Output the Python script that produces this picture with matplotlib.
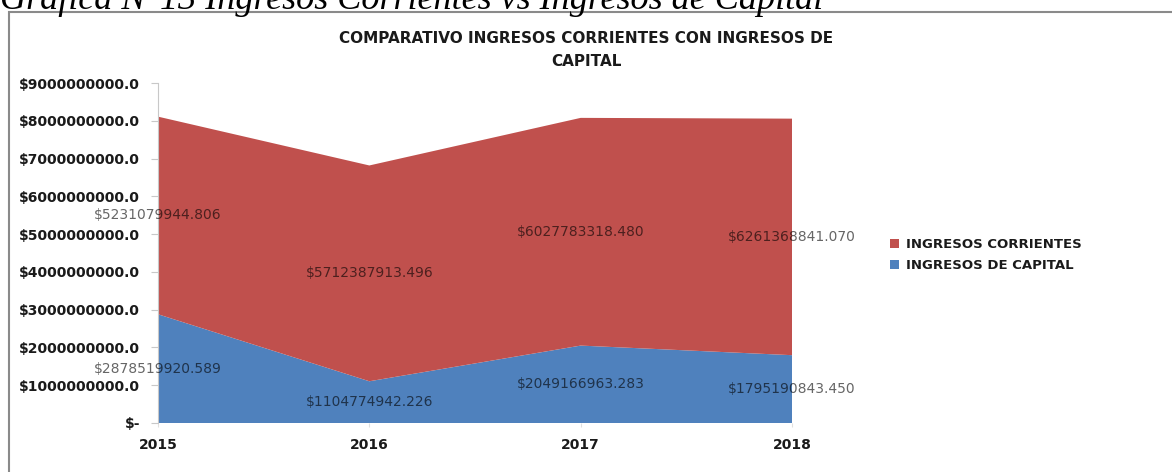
import matplotlib.pyplot as plt
from matplotlib.patches import Rectangle
from matplotlib.ticker import FuncFormatter
import numpy as np

years = ['2015', '2016', '2017', '2018']
ingresos_capital = [2878519920.589, 1104774942.226, 2049166963.283, 1795190843.450]
ingresos_corrientes = [5231079944.806, 5712387913.496, 6027783318.480, 6261368841.070]
series_names = ['INGRESOS DE CAPITAL', 'INGRESOS CORRIENTES']

RED = '#C0504D'
BLUE = '#4F81BD'


def money(v, pos=None):
    if v == 0:
        return '$-'
    return '$%d.0' % v


def main():
    fig = plt.figure(figsize=(11.72, 4.72), dpi=100)

    # caption above the chart box (cut off at the top in the original)
    fig.text(0.0, 1 - 9 / 472, 'Gráfica N°13 Ingresos Corrientes vs Ingresos de Capital',
             family='Liberation Serif', style='italic', fontsize=26, va='baseline', ha='left')

    # chart box border
    fig.patches.append(Rectangle((8.5 / 1172, -0.1), 1.2, 1 - 12 / 472 + 0.1,
                                 transform=fig.transFigure, fill=False,
                                 edgecolor='#8a8a8a', linewidth=1.5))

    ax = fig.add_axes([158 / 1172, 1 - 423 / 472, 634 / 1172, 340 / 472])
    x = np.arange(len(years))
    ax.stackplot(x, ingresos_capital, ingresos_corrientes,
                 colors=[BLUE, RED], labels=series_names)

    ax.set_xlim(0, len(years) - 1)
    ax.set_ylim(0, 9e9)
    ax.set_yticks(np.arange(0, 9.5e9, 1e9))
    ax.yaxis.set_major_formatter(FuncFormatter(money))
    ax.set_xticks(x)
    ax.set_xticklabels(years)

    for side in ['top', 'right', 'bottom']:
        ax.spines[side].set_visible(False)
    ax.spines['left'].set_color('#c8c8c8')
    ax.tick_params(axis='y', colors='#c8c8c8', labelcolor='#1a1a1a', length=5, pad=8)
    ax.tick_params(axis='x', colors='#e0e0e0', labelcolor='#1a1a1a', length=3, pad=8)
    for lab in ax.get_yticklabels() + ax.get_xticklabels():
        lab.set_fontweight('bold')
        lab.set_fontsize(10)

    # data labels in the middle of each band
    for i in x:
        cap = ingresos_capital[i]
        cor = ingresos_corrientes[i]
        ax.text(i, cap / 2, '$%.3f' % cap, ha='center', va='center',
                fontsize=10, color='black', alpha=0.6, clip_on=False)
        ax.text(i, cap + cor / 2, '$%.3f' % cor, ha='center', va='center',
                fontsize=10, color='black', alpha=0.6, clip_on=False)

    fig.text(586 / 1172, 1 - 50 / 472, 'COMPARATIVO INGRESOS CORRIENTES CON INGRESOS DE\nCAPITAL',
             ha='center', va='center', fontsize=11, fontweight='bold',
             color='#1a1a1a', linespacing=1.6)

    handles, labels = ax.get_legend_handles_labels()
    leg = fig.legend(handles[::-1], labels[::-1], loc='center left',
                     bbox_to_anchor=(878 / 1172, 1 - 255 / 472), frameon=False,
                     prop={'weight': 'bold', 'size': 9.5},
                     handlelength=0.7, handleheight=0.7, handletextpad=0.5,
                     labelspacing=0.6)
    for t in leg.get_texts():
        t.set_color('#1a1a1a')

    fig.savefig('out.png', dpi=100)


if __name__ == "__main__":
    main()
